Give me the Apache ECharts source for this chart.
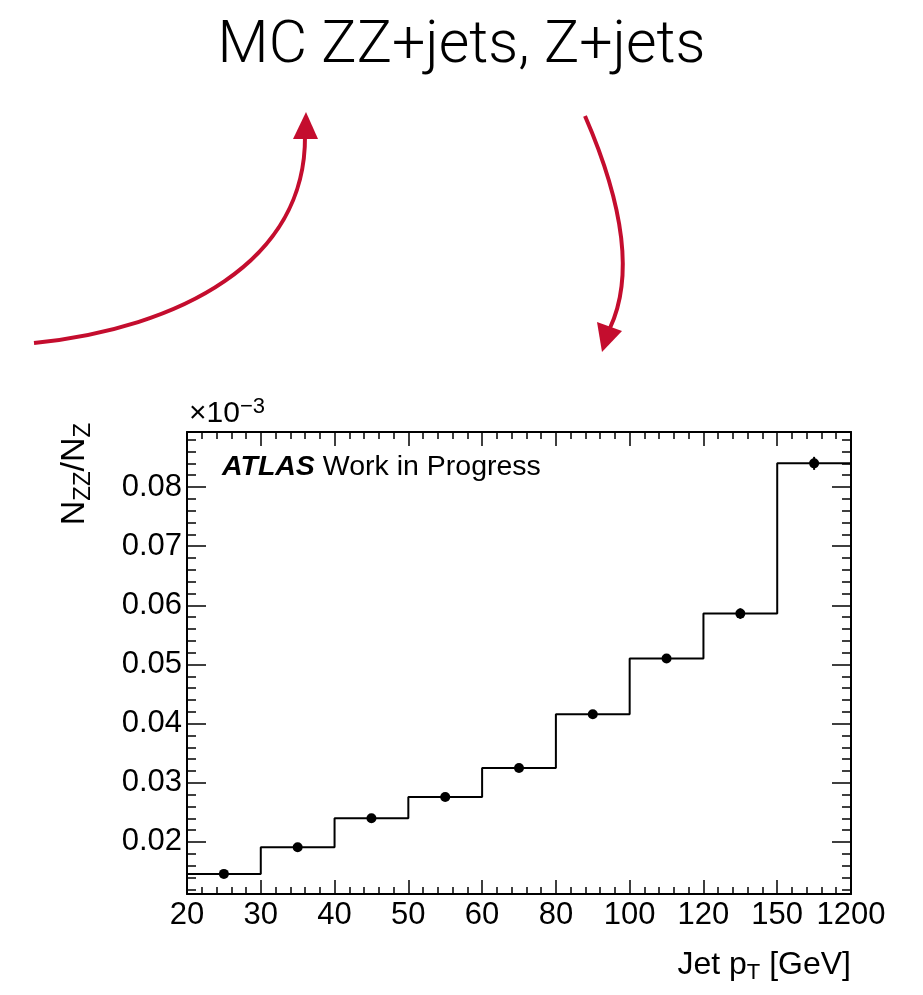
<!DOCTYPE html>
<html>
<head>
<meta charset="utf-8">
<title>MC ZZ+jets, Z+jets</title>
<script src="https://cdn.jsdelivr.net/npm/echarts@6/dist/echarts.min.js"></script>
<style>
  html, body { margin: 0; padding: 0; background: #ffffff; }
  #chart { width: 923px; height: 995px; }
</style>
</head>
<body>
<div id="chart"></div>
<script>
// Jet pT bin edges (GeV); bins are drawn with equal widths
const binEdges = ['20', '30', '40', '50', '60', '80', '100', '120', '150', '1200'];
// N_ZZ / N_Z ratio per jet pT bin (x 10^-3)
const ratio = [0.0146, 0.0191, 0.0240, 0.0276, 0.0325, 0.0416, 0.0510, 0.0586, 0.0840];
// statistical uncertainty per bin
const ratioErr = [0.0003, 0.0003, 0.0003, 0.0003, 0.0004, 0.0005, 0.0006, 0.0009, 0.0011];
// y-axis range
const yRange = [0.0112, 0.0893];

const FONT = '"Liberation Sans", Arial, Helvetica, sans-serif';
const RED = '#c40d2e';

// step outline: value of bin i from edge i to edge i+1
const stepData = ratio.map((v, i) => [i, v]);
stepData.push([ratio.length, ratio[ratio.length - 1]]);
// markers at bin centres
const pointData = ratio.map((v, i) => [i + 0.5, v]);
const errData = ratio.map((v, i) => [i + 0.5, v - ratioErr[i], v + ratioErr[i]]);

function xAxisDef(pos, showLabels) {
  return {
    type: 'value', position: pos, min: 0, max: binEdges.length - 1, interval: 1,
    axisLine: { show: true, onZero: false, lineStyle: { color: '#000', width: 2 } },
    axisTick: { show: true, inside: true, length: 14, lineStyle: { color: '#000', width: 1.5 } },
    minorTick: { show: true, splitNumber: 5, length: 7, lineStyle: { color: '#000', width: 1.5 } },
    splitLine: { show: false },
    axisLabel: {
      show: showLabels, color: '#000', fontFamily: FONT, fontSize: 31, margin: 6,
      showMinLabel: true, showMaxLabel: true,
      formatter: v => binEdges[Math.round(v)]
    }
  };
}

function yAxisDef(pos, showLabels) {
  return {
    type: 'value', position: pos, min: yRange[0], max: yRange[1], splitNumber: 8,
    axisLine: { show: true, onZero: false, lineStyle: { color: '#000', width: 2 } },
    axisTick: { show: true, inside: true, length: 19, lineStyle: { color: '#000', width: 1.5 } },
    minorTick: { show: true, splitNumber: 5, length: 9, lineStyle: { color: '#000', width: 1.5 } },
    splitLine: { show: false },
    axisLabel: {
      show: showLabels, color: '#000', fontFamily: FONT, fontSize: 31, margin: 5,
      showMinLabel: false, showMaxLabel: false,
      formatter: v => v.toFixed(2)
    }
  };
}

const chart = echarts.init(document.getElementById('chart'), null, { renderer: 'canvas' });

chart.setOption({
  animation: false,
  backgroundColor: '#ffffff',
  title: {
    text: 'MC ZZ+jets, Z+jets',
    left: 'center',
    top: 13,
    textStyle: { fontFamily: 'Roboto, "Liberation Sans", sans-serif', fontWeight: 300, fontSize: 59, color: '#000' }
  },
  grid: { left: 187, right: 72, top: 432, bottom: 101, containLabel: false },
  xAxis: [
    Object.assign(xAxisDef('bottom', true), {
      name: '{t|Jet p}{s|T}{t| [GeV]}',
      nameLocation: 'end',
      nameGap: 0,
      nameTextStyle: {
        align: 'right', verticalAlign: 'top', padding: [52, 0, 0, 0],
        rich: {
          t: { fontFamily: FONT, fontSize: 32, color: '#000' },
          s: { fontFamily: FONT, fontSize: 22, color: '#000', padding: [16, 0, 0, 0] }
        }
      }
    }),
    xAxisDef('top', false)
  ],
  yAxis: [yAxisDef('left', true), yAxisDef('right', false)],
  graphic: [
    // curved arrow rising towards the title
    {
      type: 'bezierCurve', silent: true,
      shape: { x1: 34, y1: 343, cpx1: 180, cpy1: 328, cpx2: 306, cpy2: 262, x2: 305, y2: 136 },
      style: { stroke: RED, lineWidth: 4, fill: null }
    },
    {
      type: 'polygon', silent: true,
      shape: { points: [[306, 112], [293, 139], [318, 139]] },
      style: { fill: RED }
    },
    // curved arrow descending towards the plot
    {
      type: 'bezierCurve', silent: true,
      shape: { x1: 585, y1: 116, cpx1: 615, cpy1: 185, cpx2: 638, cpy2: 268, x2: 610, y2: 328 },
      style: { stroke: RED, lineWidth: 4, fill: null }
    },
    {
      type: 'polygon', silent: true,
      shape: { points: [[602, 352], [597, 322], [622, 331]] },
      style: { fill: RED }
    },
    // y-axis title
    {
      type: 'text', silent: true, x: 75, y: 474, rotation: Math.PI / 2,
      style: {
        text: '{t|N}{s|ZZ}{t|/N}{s|Z}',
        align: 'center', verticalAlign: 'middle',
        rich: {
          t: { fontFamily: FONT, fontSize: 34, fill: '#000' },
          s: { fontFamily: FONT, fontSize: 24, fill: '#000', padding: [16, 0, 0, 0] }
        }
      }
    },
    // axis multiplier
    {
      type: 'text', silent: true, x: 189, y: 432,
      style: {
        text: '{t|×10}{e|−3}',
        align: 'left', verticalAlign: 'bottom',
        rich: {
          t: { fontFamily: FONT, fontSize: 30, fill: '#000' },
          e: { fontFamily: FONT, fontSize: 22, fill: '#000', padding: [0, 0, 14, 0] }
        }
      }
    },
    // experiment label
    {
      type: 'text', silent: true, x: 222, y: 467,
      style: {
        text: '{a|ATLAS}{b| Work in Progress}',
        align: 'left', verticalAlign: 'middle',
        rich: {
          a: { fontFamily: FONT, fontSize: 28.5, fontWeight: 'bold', fontStyle: 'italic', fill: '#000' },
          b: { fontFamily: FONT, fontSize: 28.5, fill: '#000' }
        }
      }
    }
  ],
  series: [
    {
      name: 'ratio histogram', type: 'line', xAxisIndex: 0, yAxisIndex: 0,
      step: 'end', data: stepData, symbol: 'none',
      lineStyle: { color: '#000', width: 2 }, z: 3
    },
    {
      name: 'ratio uncertainty', type: 'custom', xAxisIndex: 0, yAxisIndex: 0,
      data: errData, z: 4,
      renderItem: function (params, api) {
        const x = api.value(0);
        const p1 = api.coord([x, api.value(1)]);
        const p2 = api.coord([x, api.value(2)]);
        return {
          type: 'line',
          shape: { x1: p1[0], y1: p1[1], x2: p2[0], y2: p2[1] },
          style: { stroke: '#000', lineWidth: 2 }
        };
      }
    },
    {
      name: 'ratio points', type: 'scatter', xAxisIndex: 0, yAxisIndex: 0,
      data: pointData, symbol: 'circle', symbolSize: 10,
      itemStyle: { color: '#000', opacity: 1 }, z: 5
    }
  ]
});
</script>
</body>
</html>
